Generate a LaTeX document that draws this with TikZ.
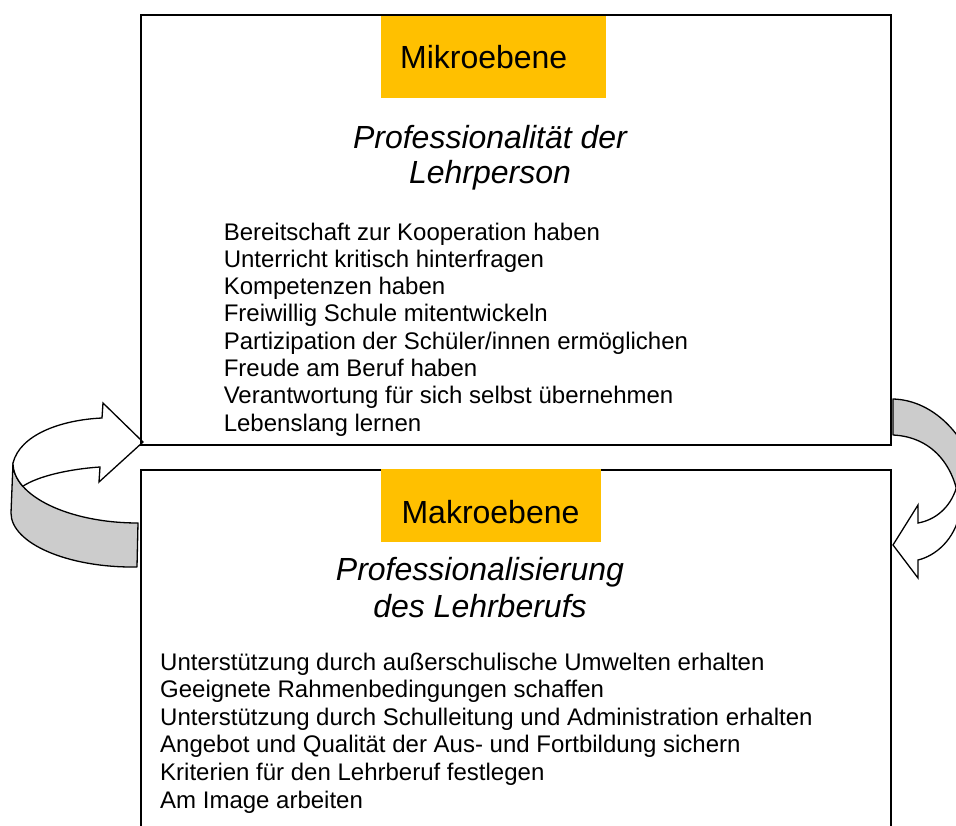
\documentclass[tikz,border=0pt]{standalone}
\usepackage{fontspec}
\setmainfont{Liberation Sans}
\definecolor{levelorange}{RGB}{255,192,0}

\begin{document}
\begin{tikzpicture}[x=1pt, y=-1pt,
    frame/.style={line width=1.6pt},
    band/.style={fill=black!20, draw=black, line width=1.3pt, line join=round},
    front/.style={fill=white, draw=black, line width=1.3pt, line join=miter},
    level/.style={font=\fontsize{32}{35}\selectfont, inner sep=0pt, anchor=base},
    heading/.style={font=\fontsize{32}{#1}\selectfont\itshape, align=center, anchor=north, inner sep=0pt},
    items/.style={font=\fontsize{24}{#1}\selectfont, align=left, anchor=north west, inner sep=0pt}]

    \useasboundingbox (0, 0) rectangle (956, 826);
    \clip (0, 0) rectangle (956, 826);

    \coordinate (la) at (13, 463);
    \coordinate (lb) at (11, 513);
    \coordinate (lc) at (137, 567);
    \coordinate (ld) at (138, 523);
    \coordinate (le) at (22.8, 486.3);

    \draw[band] (la) .. controls (13, 496) and (69, 523) .. (ld) -- (lc)
        .. controls (67, 568) and (11, 543) .. (lb) -- cycle;
    \draw[front] (la) .. controls (20, 435) and (60, 420) .. (102, 418) -- (103, 403) -- (143, 442)
        -- (99, 482) -- (100, 467) .. controls (70, 469) and (38, 476) .. (le)
        .. controls (16.5, 479.1) and (13, 471.25) .. (la) -- cycle;

    \coordinate (rf) at (893, 399);
    \coordinate (rg) at (893, 435);
    \coordinate (ra) at (960, 512);
    \coordinate (re) at (956.3, 488.1);

    \draw[band] (rf) .. controls (930, 400) and (962, 430) .. (975, 470) -- (ra)
        .. controls (958, 470) and (935, 437) .. (rg) -- cycle;
    \draw[front] (re) .. controls (950, 508) and (935, 520) .. (918, 523) -- (918, 505) -- (893, 545)
        -- (918, 578) -- (918, 560) .. controls (935, 556) and (955, 540) .. (ra)
        .. controls (959.6, 503.6) and (958.4, 495.6) .. (re) -- cycle;

    \draw[frame] (141, 15) rectangle (891, 445);
    \draw[frame] (141, 840) -- (141, 470) -- (891, 470) -- (891, 840);

    \fill[levelorange] (381, 16) rectangle (606, 98);
    \fill[levelorange] (381, 469) rectangle (601, 542);

    \node[level] (mikro) at (483.7, 68.3) {Mikroebene};
    \node[level] (makro) at (490.5, 523.3) {Makroebene};

    \node[heading=35] (mikrotitle) at (490, 125) {Professionalität der\\Lehrperson};
    \node[heading=37] (makrotitle) at (480, 556.7) {Professionalisierung\\des Lehrberufs};

    \node[items=27.3] (mikrolist) at (223.6, 222.5) {Bereitschaft zur Kooperation haben\\
        Unterricht kritisch hinterfragen\\
        Kompetenzen haben\\
        Freiwillig Schule mitentwickeln\\
        Partizipation der Schüler/innen ermöglichen\\
        Freude am Beruf haben\\
        Verantwortung für sich selbst übernehmen\\
        Lebenslang lernen};

    \node[items=27.6] (makrolist) at (160, 652.5) {Unterstützung durch außerschulische Umwelten erhalten\\
        Geeignete Rahmenbedingungen schaffen\\
        Unterstützung durch Schulleitung und Administration erhalten\\
        Angebot und Qualität der Aus- und Fortbildung sichern\\
        Kriterien für den Lehrberuf festlegen\\
        Am Image arbeiten};
\end{tikzpicture}
\end{document}
